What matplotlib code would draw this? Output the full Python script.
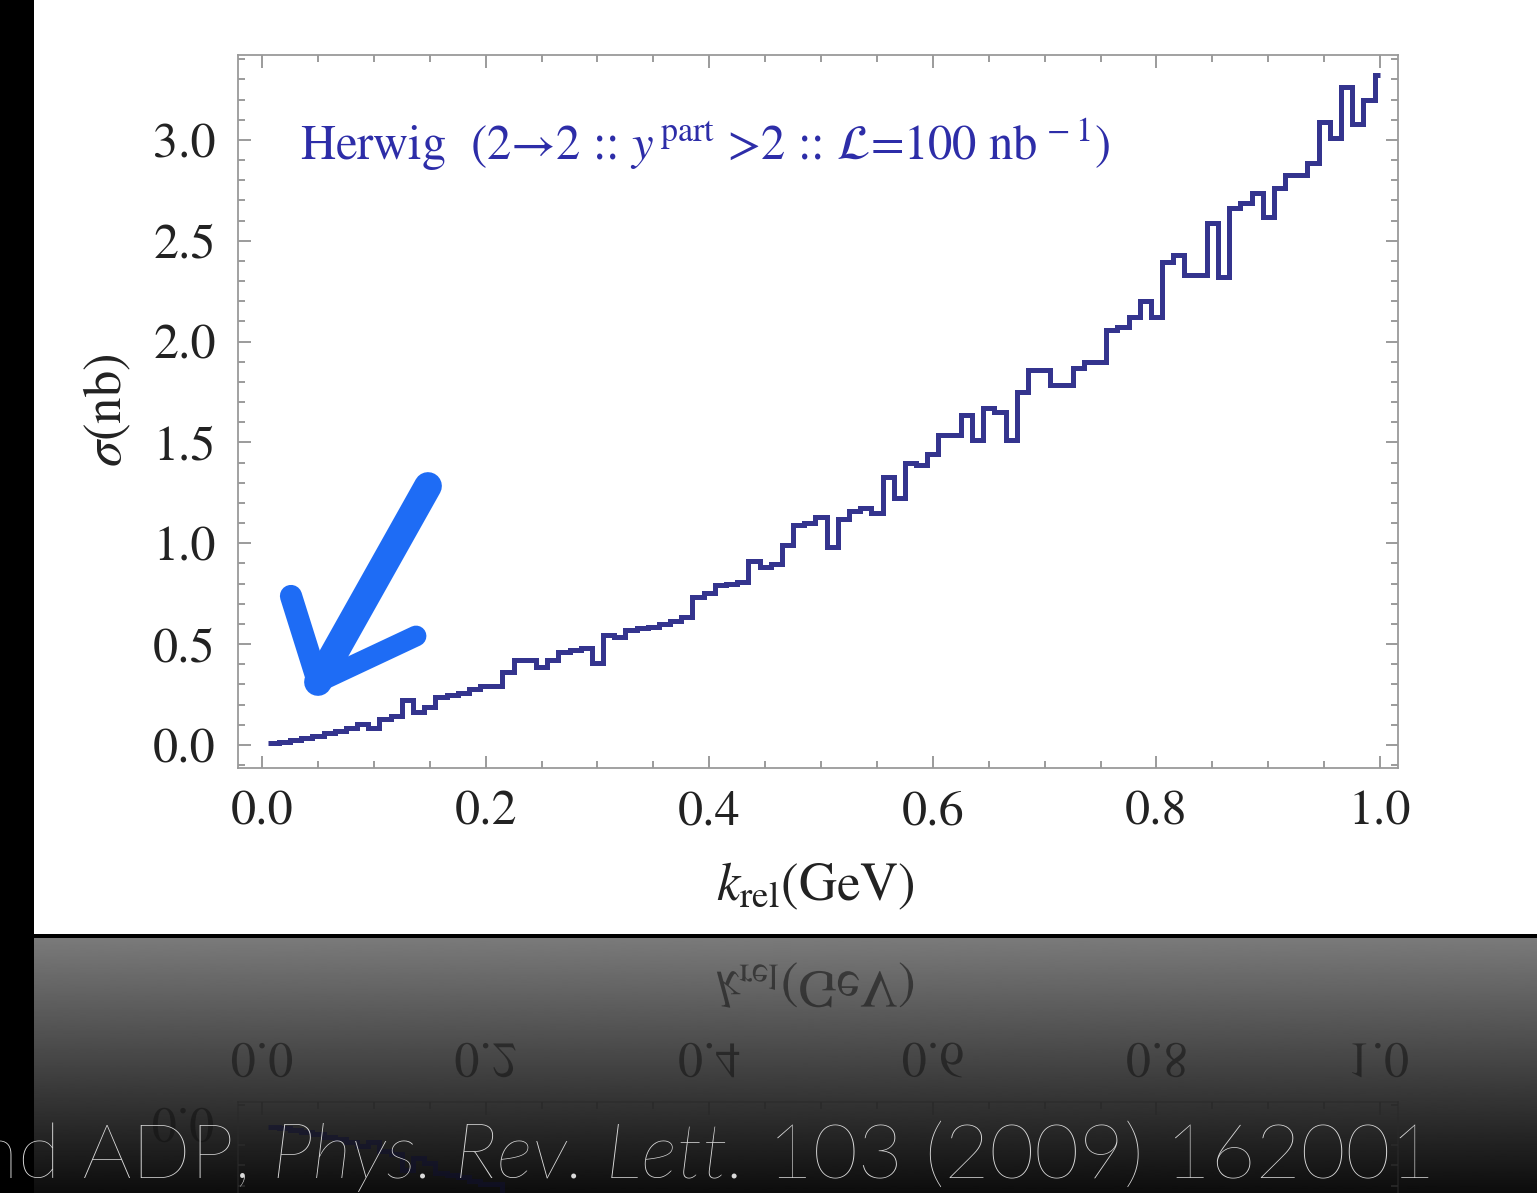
import numpy as np
import matplotlib
matplotlib.use("Agg")
import matplotlib.pyplot as plt
from matplotlib.textpath import TextPath
from matplotlib.patches import PathPatch, Rectangle
from matplotlib.font_manager import FontProperties
from matplotlib.transforms import Affine2D
from matplotlib.ticker import MultipleLocator, FixedLocator
from matplotlib.lines import Line2D

# ---------------- data ----------------
bin_width = 0.01
k_first_edge = 0.005
sigma_nb = [0.008, 0.016, 0.025, 0.036, 0.046, 0.058, 0.070, 0.083, 0.104, 0.083,
            0.127, 0.144, 0.223, 0.165, 0.190, 0.236, 0.248, 0.260, 0.276, 0.293,
            0.295, 0.363, 0.420, 0.420, 0.385, 0.420, 0.463, 0.470, 0.480, 0.405,
            0.545, 0.535, 0.570, 0.580, 0.587, 0.600, 0.616, 0.633, 0.735, 0.752,
            0.793, 0.800, 0.810, 0.910, 0.885, 0.895, 0.990, 1.090, 1.100, 1.130,
            0.983, 1.120, 1.160, 1.175, 1.150, 1.330, 1.225, 1.400, 1.390, 1.445,
            1.537, 1.537, 1.636, 1.512, 1.670, 1.650, 1.512, 1.750, 1.860, 1.860,
            1.785, 1.785, 1.870, 1.900, 1.900, 2.060, 2.070, 2.120, 2.200, 2.120,
            2.396, 2.430, 2.330, 2.330, 2.586, 2.320, 2.660, 2.686, 2.735, 2.620,
            2.760, 2.826, 2.826, 2.884, 3.090, 3.010, 3.264, 3.080, 3.200, 3.320]
x_ticks = [0.0, 0.2, 0.4, 0.6, 0.8, 1.0]
x_tick_labels = ["0.0", "0.2", "0.4", "0.6", "0.8", "1.0"]
y_ticks = [0.0, 0.5, 1.0, 1.5, 2.0, 2.5, 3.0]
y_tick_labels = ["0.0", "0.5", "1.0", "1.5", "2.0", "2.5", "3.0"]
title_text = r"Herwig  (2→2 :: $y^{\,\mathrm{part}}$ >2 :: $\mathcal{L}$=100 nb$^{\,-1}$)"
x_label = r"$k_{\mathrm{rel}}$(GeV)"
y_label = r"$\sigma$(nb)"
caption_parts = [("nd ADP,", "normal"), ("Phys. Rev. Lett.", "italic"), ("103 (2009) 162001", "normal")]

edges = np.minimum(k_first_edge + bin_width * np.arange(len(sigma_nb) + 1), 1.0)

# ---------------- style ----------------
plt.rcParams['font.family'] = ['STIXGeneral', 'DejaVu Serif']
plt.rcParams['mathtext.fontset'] = 'stix'

W, H = 1537, 1193
fig = plt.figure(figsize=(W / 100, H / 100), dpi=100, facecolor='black')


def fx(x):
    return x / W


def fy(y):
    return 1 - y / H


# white slide area
fig.patches.append(Rectangle((fx(34), fy(934)), 1, 934 / H, transform=fig.transFigure,
                             facecolor='white', edgecolor='none', zorder=0))

# reflection gradient background
bg_ax = fig.add_axes([fx(34), 0, 1 - fx(34), (H - 938) / H], zorder=0)
grad = np.linspace(0.48, 0.05, 256).reshape(-1, 1)
bg_ax.imshow(grad, cmap='gray', vmin=0, vmax=1, aspect='auto', extent=[0, 1, 0, 1])
bg_ax.axis('off')

LINE_COLOR = '#34348e'
FRAME_COLOR = '#9a9a9a'
TICK_FS = 36

# ---------------- main axes ----------------
ax_left, ax_right, ax_top, ax_bottom = 238, 1398, 55, 768
ax = fig.add_axes([fx(ax_left), fy(ax_bottom), (ax_right - ax_left) / W, (ax_bottom - ax_top) / H], zorder=2)
ax.set_facecolor('white')
ax.stairs(sigma_nb, edges, baseline=None, color=LINE_COLOR, linewidth=3.6)
ax.set_xlim(-0.0215, 1.016)
ax.set_ylim(-0.114, 3.421)
ax.xaxis.set_major_locator(FixedLocator(x_ticks))
ax.set_xticklabels(x_tick_labels)
ax.yaxis.set_major_locator(FixedLocator(y_ticks))
ax.set_yticklabels(y_tick_labels)
ax.xaxis.set_minor_locator(MultipleLocator(0.05))
ax.yaxis.set_minor_locator(MultipleLocator(0.1))
ax.tick_params(which='both', direction='in', top=True, right=True, color='#8a8a8a', width=1.2)
ax.tick_params(which='major', length=9, labelsize=TICK_FS, pad=16, labelcolor='#222222')
ax.tick_params(which='minor', length=5)
for s in ax.spines.values():
    s.set_color(FRAME_COLOR)
    s.set_linewidth(1.3)

ax.set_xlabel(x_label, fontsize=38, color='#222222')
ax.xaxis.set_label_coords((815 - ax_left) / (ax_right - ax_left), -0.13)
ax.set_ylabel(y_label, fontsize=38, color='#222222')
ax.yaxis.set_label_coords(-0.09, (ax_bottom - 410) / (ax_bottom - ax_top))
ax.text((300 - ax_left) / (ax_right - ax_left), (ax_bottom - 145) / (ax_bottom - ax_top), title_text,
        transform=ax.transAxes, ha='left', va='center', color='#2d2da8', fontsize=35)

# ---------------- hand-drawn blue arrow ----------------
arrow_color = '#1e6cf5'
for (x0, y0), (x1, y1), lw in [((428, 486), (318, 682), 20),
                                ((291, 596), (318, 682), 16),
                                ((318, 682), (416, 636), 15)]:
    fig.add_artist(Line2D([fx(x0), fx(x1)], [fy(y0), fy(y1)], transform=fig.transFigure,
                          color=arrow_color, linewidth=lw, solid_capstyle='round', zorder=5))

# ---------------- reflection (mirror about y = 935 px) ----------------
mirror_y = 935
m_top = 2 * mirror_y - ax_bottom
m_bot = 2 * mirror_y - ax_top
ax2 = fig.add_axes([fx(ax_left), fy(m_bot), (ax_right - ax_left) / W, (m_bot - m_top) / H], zorder=1)
ax2.set_facecolor('none')
ax2.stairs(sigma_nb, edges, baseline=None, color='#101030', linewidth=3.6, alpha=0.55)
ax2.set_xlim(-0.0215, 1.016)
ax2.set_ylim(3.421, -0.114)
ax2.xaxis.set_major_locator(FixedLocator(x_ticks))
ax2.yaxis.set_major_locator(FixedLocator(y_ticks))
ax2.xaxis.set_minor_locator(MultipleLocator(0.05))
ax2.yaxis.set_minor_locator(MultipleLocator(0.1))
ax2.tick_params(which='both', direction='in', bottom=True, top=True, left=True, right=True,
                color='#2a2a2a', width=1.2, labelbottom=False, labeltop=False,
                labelleft=False, labelright=False)
ax2.tick_params(which='major', length=9)
ax2.tick_params(which='minor', length=5)
for s in ax2.spines.values():
    s.set_color('#2a2a2a')
    s.set_linewidth(1.3)
    s.set_alpha(0.6)


def mirrored_text(s, xpx, ypx, size, color='#111111', alpha=0.55):
    tp = TextPath((0, 0), s, size=size, prop=FontProperties(family='STIXGeneral'))
    ext = tp.get_extents()
    cx, cy = (ext.x0 + ext.x1) / 2, (ext.y0 + ext.y1) / 2
    x_pt, y_pt = xpx * 72 / 100, (H - ypx) * 72 / 100
    tr = (Affine2D().translate(-cx, -cy).scale(1, -1).translate(x_pt, y_pt).scale(1 / 72)
          + fig.dpi_scale_trans)
    fig.add_artist(PathPatch(tp, transform=tr, facecolor=color, edgecolor='none',
                             alpha=alpha, zorder=3))


k0_px, k_scale = 262, 1118
for v, lab in zip(x_ticks, x_tick_labels):
    mirrored_text(lab, k0_px + k_scale * v, 2 * mirror_y - 810, TICK_FS)
mirrored_text(x_label, 815, 2 * mirror_y - 885, 38)
mirrored_text(y_tick_labels[0], 183, 2 * mirror_y - 745, TICK_FS)

# ---------------- caption ----------------
cap_color = '#dadada'
cap_family = ['Lato', 'DejaVu Sans']
cap_weight = 'light'
cap_fs = 57
renderer = fig.canvas.get_renderer()


def measure(s, style, fs):
    t = fig.text(0, 0, s, fontsize=fs, family=cap_family, style=style, weight=cap_weight)
    w = t.get_window_extent(renderer).width
    t.remove()
    return w


space_w = measure("x x", "normal", cap_fs) - measure("xx", "normal", cap_fs)
widths = [measure(s, st, cap_fs) for s, st in caption_parts]
total = sum(widths) + space_w * (len(caption_parts) - 1)
target_w = 1435 + 24
scale = target_w / total
cap_fs *= scale
space_w *= scale
widths = [w * scale for w in widths]
x_cur = 1435 - (sum(widths) + space_w * (len(caption_parts) - 1))
for (s, st), w in zip(caption_parts, widths):
    fig.text(fx(x_cur), fy(1178), s, fontsize=cap_fs, family=cap_family, style=st,
             weight=cap_weight, color=cap_color, ha='left', va='baseline', zorder=10)
    x_cur += w + space_w

fig.savefig("out.png", dpi=100, facecolor='black')
